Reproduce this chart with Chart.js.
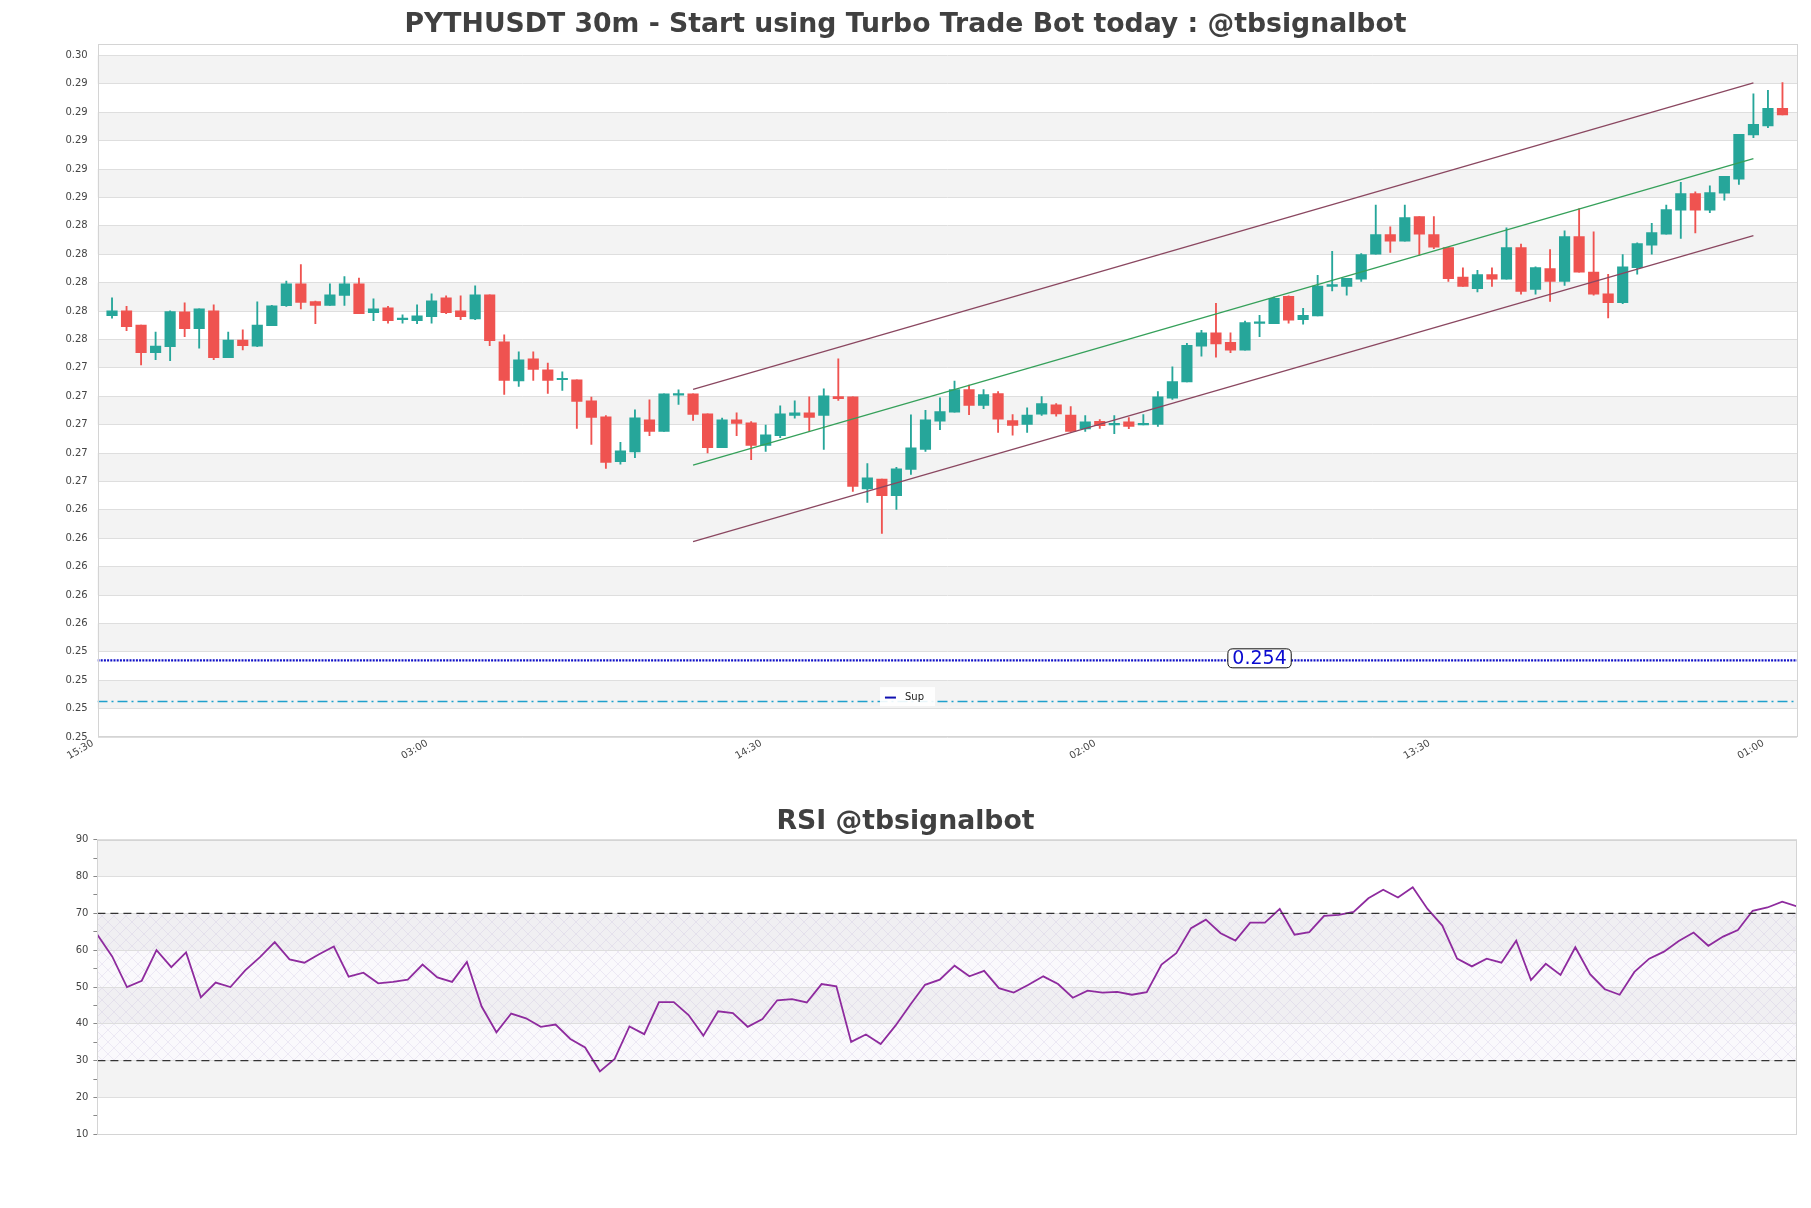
<!DOCTYPE html>
<html>
<head>
<meta charset="utf-8">
<script src="https://cdn.jsdelivr.net/npm/chart.js@4.4.0/dist/chart.umd.min.js"></script>
<style>
html,body{margin:0;padding:0;background:#fff;}
#wrap{position:relative;width:1811px;height:1208px;overflow:hidden;}
#main{position:absolute;left:0;top:0;}
#rsi{position:absolute;left:0;top:790px;}
</style>
</head>
<body>
<div id="wrap">
<canvas id="main" width="1811" height="790" style="width:1811px;height:790px"></canvas>
<canvas id="rsi" width="1811" height="418" style="width:1811px;height:418px"></canvas>
</div>
<script>
// ---------------- DATA ----------------
const TITLE = 'PYTHUSDT 30m - Start using Turbo Trade Bot today : @tbsignalbot';
const RSI_TITLE = 'RSI @tbsignalbot';

const tickIndex = [0, 23, 46, 69, 92, 115];
const tickLabels = ['15:30', '03:00', '14:30', '02:00', '13:30', '01:00'];

const open = [
.27828,.27861,.27762,.27566,.27609,.27854,.27736,.27861,.27531,.27656,
.27613,.27757,.27897,.28052,.27927,.27899,.27970,.28052,.27849,.27882,
.27800,.27793,.27821,.27953,.27861,.27805,.27974,.27644,.27367,.27524,
.27446,.27376,.27376,.27228,.27115,.26800,.26868,.27094,.27012,.27268,
.27277,.27136,.26897,.27094,.27073,.26913,.26983,.27124,.27143,.27124,
.27258,.27256,.26607,.26676,.26560,.26744,.26885,.27084,.27147,.27307,
.27196,.27279,.27088,.27062,.27133,.27199,.27128,.27029,.27084,.27058,
.27079,.27058,.27062,.27246,.27361,.27613,.27707,.27639,.27585,.27773,
.27771,.27964,.27799,.27825,.28034,.28034,.28084,.28260,.28399,.28352,
.28526,.28399,.28307,.28100,.28018,.28116,.28084,.28307,.28013,.28159,
.28069,.28385,.28135,.27982,.27919,.28166,.28324,.28401,.28571,.28688,
.28571,.28691,.28789,.29100,.29164,.29288];

const high = [
.27953,.27894,.27762,.27712,.27861,.27918,.27875,.27904,.27712,.27727,
.27925,.27901,.28071,.28187,.27930,.28052,.28102,.28092,.27946,.27894,
.27833,.27904,.27981,.27967,.27967,.28038,.27974,.27693,.27573,.27573,
.27493,.27432,.27376,.27254,.27124,.26936,.27164,.27235,.27277,.27305,
.27277,.27136,.27106,.27143,.27082,.27056,.27193,.27228,.27256,.27312,
.27524,.27256,.26786,.26676,.26760,.27129,.27160,.27248,.27366,.27338,
.27307,.27293,.27131,.27178,.27258,.27208,.27187,.27124,.27095,.27124,
.27109,.27131,.27293,.27467,.27632,.27724,.27914,.27707,.27789,.27829,
.27958,.27968,.27879,.28112,.28281,.28091,.28265,.28606,.28453,.28606,
.28526,.28526,.28307,.28164,.28147,.28164,.28446,.28331,.28171,.28293,
.28425,.28582,.28418,.28119,.28258,.28340,.28477,.28606,.28766,.28700,
.28742,.28808,.29105,.29389,.29415,.29469];

const low = [
.27809,.27722,.27481,.27517,.27510,.27679,.27599,.27517,.27531,.27587,
.27609,.27757,.27892,.27875,.27771,.27899,.27899,.27842,.27793,.27774,
.27774,.27771,.27774,.27842,.27800,.27800,.27616,.27273,.27329,.27371,
.27280,.27301,.27033,.26920,.26751,.26781,.26828,.26983,.27012,.27202,
.27089,.26861,.26897,.26983,.26814,.26871,.26969,.27106,.27014,.26885,
.27230,.26589,.26513,.26293,.26462,.26709,.26871,.27025,.27147,.27131,
.27173,.27006,.26985,.27006,.27124,.27119,.27013,.27013,.27034,.26996,
.27032,.27058,.27048,.27237,.27361,.27542,.27535,.27566,.27585,.27679,
.27771,.27775,.27768,.27825,.28001,.27971,.28069,.28260,.28272,.28352,
.28253,.28300,.28069,.28034,.27994,.28034,.28084,.27978,.27978,.27928,
.28041,.28133,.27971,.27811,.27912,.28119,.28260,.28401,.28371,.28411,
.28552,.28641,.28752,.29081,.29152,.29241];

const close = [
.27861,.27750,.27566,.27613,.27856,.27736,.27875,.27531,.27656,.27616,
.27762,.27897,.28052,.27920,.27899,.27974,.28052,.27842,.27875,.27793,
.27805,.27826,.27932,.27849,.27821,.27974,.27651,.27371,.27517,.27449,
.27371,.27381,.27223,.27110,.26793,.26875,.27108,.27012,.27277,.27273,
.27132,.26897,.27094,.27068,.26913,.26988,.27136,.27143,.27110,.27263,
.27242,.26624,.26685,.26560,.26748,.26897,.27094,.27152,.27307,.27196,
.27272,.27098,.27055,.27128,.27208,.27135,.27013,.27079,.27053,.27065,
.27048,.27065,.27255,.27364,.27618,.27707,.27629,.27585,.27778,.27782,
.27949,.27796,.27829,.28036,.28046,.28091,.28258,.28399,.28352,.28519,
.28401,.28309,.28088,.28034,.28116,.28084,.28307,.27999,.28166,.28069,
.28385,.28133,.27978,.27919,.28171,.28335,.28413,.28575,.28688,.28571,
.28695,.28808,.29105,.29175,.29288,.29241];

const rsi = [
64.2,58.3,50.0,51.7,60.0,55.4,59.4,47.2,51.2,50.0,
54.5,58.1,62.2,57.5,56.6,58.9,61.0,52.8,53.9,51.0,
51.4,52.0,56.1,52.6,51.4,56.8,44.7,37.7,42.8,41.5,
39.2,39.8,35.9,33.6,27.1,30.5,39.3,37.2,45.9,45.9,
42.4,36.8,43.4,42.9,39.2,41.3,46.4,46.7,45.8,50.8,
50.2,35.1,37.1,34.5,39.5,45.2,50.6,52.0,55.8,52.9,
54.4,49.7,48.5,50.6,52.9,50.8,47.1,49.0,48.5,48.7,
47.9,48.6,56.1,59.2,66.0,68.3,64.6,62.6,67.5,67.5,
71.2,64.2,64.9,69.3,69.6,70.4,74.1,76.4,74.3,77.1,
71.2,66.7,57.7,55.6,57.7,56.6,62.6,51.9,56.3,53.3,
60.8,53.5,49.4,47.9,54.1,57.7,59.6,62.5,64.8,61.2,
63.7,65.5,70.7,71.6,73.2,71.9];

// channel lines (start / end candle index and prices)
const channelX = [40, 113];
const channelUpper = [0.27308, 0.29467];
const channelMid = [0.26774, 0.28933];
const channelLower = [0.26236, 0.28392];

// horizontal levels
const supLevel = 0.254;
const supLabelIndex = 79;
const lowLevel = 0.2511;
const rsiLevels = [70, 30];

// axis ranges / ticks
const yMin = 0.2486, yMax = 0.29744, yStep = 0.002;
const yTicks = Array.from({length: 25}, (_, k) => +(yMin + yStep * k).toFixed(4));
const rsiMajor = [90, 80, 70, 60, 50, 40, 30, 20, 10];

// ---------------- STYLE ----------------
const FONT = "'DejaVu Sans', 'Liberation Sans', sans-serif";
const UP = '#26a69a', DOWN = '#ef5350';
const BAND = '#f3f3f3', GRID = '#dedede', FRAME = '#d4d4d4';
const TXT = '#454545';
Chart.defaults.font.family = FONT;
Chart.defaults.animation = false;

const idx = open.map((_, i) => i);
const candleColors = idx.map(i => close[i] >= open[i] ? UP : DOWN);

function roundRect(ctx, x, y, w, h, r) {
  ctx.beginPath();
  ctx.moveTo(x + r, y);
  ctx.lineTo(x + w - r, y); ctx.quadraticCurveTo(x + w, y, x + w, y + r);
  ctx.lineTo(x + w, y + h - r); ctx.quadraticCurveTo(x + w, y + h, x + w - r, y + h);
  ctx.lineTo(x + r, y + h); ctx.quadraticCurveTo(x, y + h, x, y + h - r);
  ctx.lineTo(x, y + r); ctx.quadraticCurveTo(x, y, x + r, y);
  ctx.closePath();
}

let hatchPattern = null;
function getHatch(ctx) {
  if (hatchPattern) return hatchPattern;
  const c = document.createElement('canvas');
  c.width = 12; c.height = 12;
  const g = c.getContext('2d');
  g.fillStyle = 'rgba(228,222,236,0.18)';
  g.fillRect(0, 0, 12, 12);
  g.strokeStyle = 'rgba(185,170,210,0.30)';
  g.lineWidth = 0.7;
  g.beginPath();
  g.moveTo(0, 0); g.lineTo(12, 12);
  g.moveTo(12, 0); g.lineTo(0, 12);
  g.stroke();
  hatchPattern = ctx.createPattern(c, 'repeat');
  return hatchPattern;
}

const bandPlugin = {
  id: 'bands',
  beforeDraw(chart, args, opts) {
    const {ctx, chartArea: a} = chart;
    const ys = chart.scales.y;
    ctx.save();
    ctx.fillStyle = '#ffffff';
    ctx.fillRect(0, 0, chart.width, chart.height);
    const t = opts.ticks;
    ctx.fillStyle = BAND;
    for (let k = 0; k + 1 < t.length; k += 2) {
      const y1 = ys.getPixelForValue(t[k]), y2 = ys.getPixelForValue(t[k + 1]);
      ctx.fillRect(a.left, Math.min(y1, y2), a.right - a.left, Math.abs(y2 - y1));
    }
    if (opts.hatch) {
      const y1 = ys.getPixelForValue(opts.hatch[0]), y2 = ys.getPixelForValue(opts.hatch[1]);
      ctx.fillStyle = getHatch(ctx);
      ctx.fillRect(a.left, Math.min(y1, y2), a.right - a.left, Math.abs(y2 - y1));
    }
    ctx.restore();
  },
  afterDraw(chart) {
    const {ctx, chartArea: a} = chart;
    ctx.save();
    ctx.strokeStyle = FRAME;
    ctx.lineWidth = 1;
    ctx.strokeRect(Math.round(a.left) + 0.5, Math.round(a.top) + 0.5,
                   Math.round(a.right - a.left) - 1, Math.round(a.bottom - a.top) - 1);
    ctx.restore();
  }
};

const annotatePlugin = {
  id: 'annotate',
  afterDatasetsDraw(chart) {
    const {ctx, chartArea: a} = chart;
    const xs = chart.scales.x, ys = chart.scales.y;
    ctx.save();
    // level value label
    const px = xs.getPixelForValue(supLabelIndex), py = ys.getPixelForValue(supLevel);
    const txt = supLevel.toFixed(3);
    ctx.font = '19px ' + FONT;
    const w = ctx.measureText(txt).width + 9, h = 19;
    roundRect(ctx, px - w / 2, py - h / 2 - 2, w, h, 5);
    ctx.fillStyle = '#ffffff'; ctx.fill();
    ctx.strokeStyle = '#111'; ctx.lineWidth = 1; ctx.stroke();
    ctx.fillStyle = '#0a0ad0';
    ctx.textAlign = 'center'; ctx.textBaseline = 'middle';
    ctx.fillText(txt, px, py - 1);
    // legend
    const ds = chart.data.datasets.find(d => d.showInLegend);
    const lx = a.left + 0.4604 * (a.right - a.left);
    const ly = a.top + 0.928 * (a.bottom - a.top);
    ctx.fillStyle = 'rgba(255,255,255,0.9)';
    ctx.fillRect(lx, ly, 55, 19);
    ctx.strokeStyle = '#1010b0'; ctx.lineWidth = 2;
    ctx.beginPath(); ctx.moveTo(lx + 5, ly + 10.5); ctx.lineTo(lx + 16, ly + 10.5); ctx.stroke();
    ctx.fillStyle = '#222';
    ctx.font = '10px ' + FONT;
    ctx.textAlign = 'left'; ctx.textBaseline = 'middle';
    ctx.fillText(ds.label, lx + 25, ly + 10);
    ctx.restore();
  }
};

// spacer axis on the right so the titles stay centred on the page
const spacerAxis = {
  type: 'linear', position: 'right', display: true,
  grid: {display: false, drawTicks: false}, ticks: {display: false},
  border: {display: false},
  afterFit: s => { s.width = 14; }
};

// ---------------- MAIN CHART ----------------
const lineDs = (label, xs, ys, color, width, dash, extra) => Object.assign({
  type: 'line', label,
  data: xs.map((x, i) => ({x, y: ys[i]})),
  borderColor: color, borderWidth: width, borderDash: dash || [],
  pointRadius: 0, tension: 0, fill: false, order: 0
}, extra || {});

new Chart(document.getElementById('main'), {
  type: 'bar',
  data: {
    datasets: [
      {
        type: 'bar', label: 'Body',
        data: idx.map(i => ({x: i, y: [open[i], close[i]]})),
        backgroundColor: candleColors, borderWidth: 0,
        barThickness: 10.5, minBarLength: 1.5, grouped: false, order: 1
      },
      {
        type: 'bar', label: 'Wick',
        data: idx.map(i => ({x: i, y: [low[i], high[i]]})),
        backgroundColor: candleColors, borderWidth: 0,
        barThickness: 1.2, grouped: false, order: 2
      },
      lineDs('Upper', channelX, channelUpper, '#8a4760', 1.3),
      lineDs('Middle', channelX, channelMid, '#35a05a', 1.3),
      lineDs('Lower', channelX, channelLower, '#8a4760', 1.3),
      lineDs('Sup', [-1, 116], [supLevel, supLevel], '#1010c8', 2.2, [2, 1.2], {showInLegend: true}),
      lineDs('Low', [-1, 116], [lowLevel, lowLevel], '#1fa0cc', 1.3, [10, 4, 2, 4])
    ]
  },
  options: {
    responsive: false,
    animation: false,
    events: [],
    layout: {padding: {left: 0, right: 0, top: 0, bottom: 0}},
    plugins: {
      title: {
        display: true, text: TITLE, color: '#404040',
        font: {size: 26.7, weight: 'bold', family: FONT},
        padding: {top: 9, bottom: 2.5}
      },
      legend: {display: false},
      tooltip: {enabled: false},
      bands: {ticks: yTicks.slice().reverse()}
    },
    scales: {
      x: {
        type: 'linear', min: -1, max: 116, offset: false,
        grid: {display: false, offset: false}, border: {display: false},
        afterBuildTicks: s => { s.ticks = tickIndex.map(v => ({value: v})); },
        ticks: {
          callback: (v, i) => tickLabels[i],
          minRotation: 30, maxRotation: 30, autoSkip: false,
          font: {size: 10, family: FONT}, color: TXT,
          labelOffset: -19, padding: -7.5
        },
        afterFit: s => { s.height = 53; }
      },
      y: {
        type: 'linear', min: yMin, max: yMax,
        afterBuildTicks: s => { s.ticks = yTicks.map(v => ({value: v})); },
        ticks: {
          callback: v => Number(v).toFixed(2),
          font: {size: 10, family: FONT}, color: TXT, padding: 9.8
        },
        grid: {color: GRID, drawTicks: false, lineWidth: 1},
        border: {display: false},
        afterFit: s => { s.width = 97.5; }
      },
      yR: spacerAxis
    }
  },
  plugins: [bandPlugin, annotatePlugin]
});

// ---------------- RSI CHART ----------------
new Chart(document.getElementById('rsi'), {
  type: 'line',
  data: {
    datasets: [
      {
        label: 'RSI', data: rsi.map((v, i) => ({x: i, y: v})),
        borderColor: '#8e2b9e', borderWidth: 1.8, pointRadius: 0, tension: 0, order: 1
      },
      lineDs('Overbought', [0, 115], [rsiLevels[0], rsiLevels[0]], '#333333', 1.2, [8, 5]),
      lineDs('Oversold', [0, 115], [rsiLevels[1], rsiLevels[1]], '#333333', 1.2, [8, 5])
    ]
  },
  options: {
    responsive: false,
    animation: false,
    events: [],
    layout: {padding: {left: 0, right: 0, top: 0, bottom: 73.7}},
    plugins: {
      title: {
        display: true, text: RSI_TITLE, color: '#404040',
        font: {size: 26.7, weight: 'bold', family: FONT},
        padding: {top: 16, bottom: 1.7}
      },
      legend: {display: false},
      tooltip: {enabled: false},
      bands: {ticks: rsiMajor, hatch: [70, 30]}
    },
    scales: {
      x: {type: 'linear', min: 0, max: 115, offset: false, display: false},
      y: {
        type: 'linear', min: 10, max: 90,
        ticks: {
          stepSize: 5,
          callback: v => (v % 10 === 0 ? String(v) : ''),
          font: {size: 10, family: FONT}, color: TXT, padding: 5
        },
        grid: {
          color: c => (c.tick && c.tick.value % 10 === 0 ? GRID : 'rgba(0,0,0,0)'),
          tickColor: '#888', tickLength: 4, drawTicks: true
        },
        border: {display: false},
        afterFit: s => { s.width = 97.4; }
      },
      yR: spacerAxis
    }
  },
  plugins: [bandPlugin]
});
</script>
</body>
</html>
